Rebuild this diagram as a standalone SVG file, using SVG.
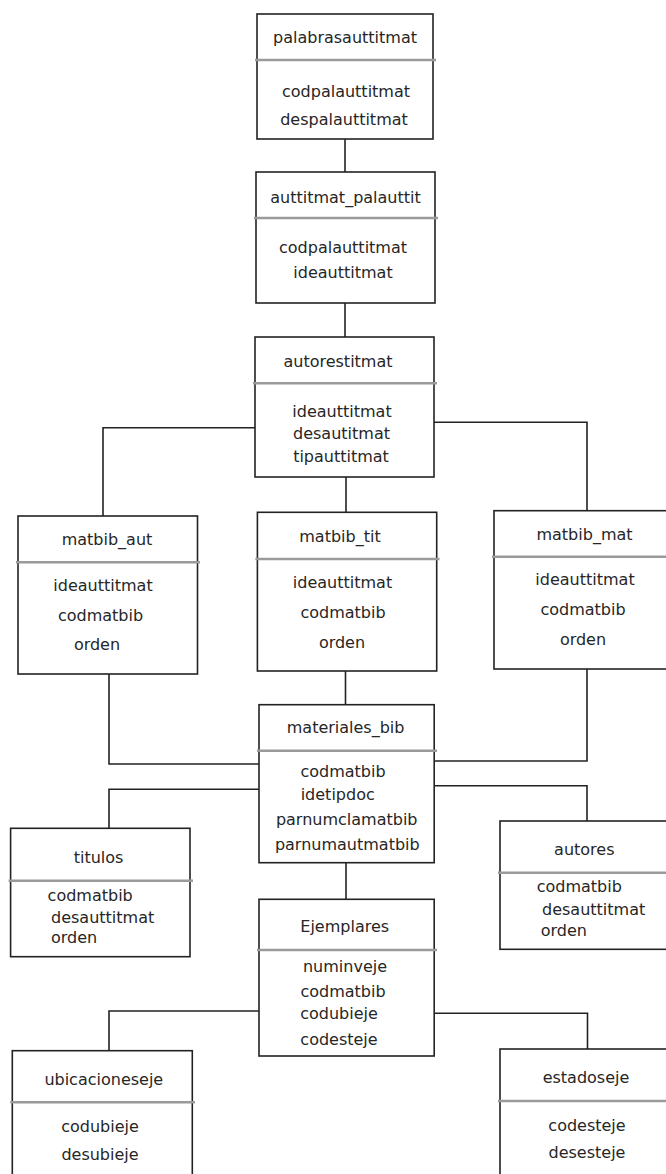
<svg xmlns="http://www.w3.org/2000/svg" width="666" height="1174" viewBox="0 0 666 1174">
  <style>
    .box { fill: #fff; stroke: #222; stroke-width: 1.6; }
    .sep { stroke: #9a9a9a; stroke-width: 2.6; }
    .wire { fill: none; stroke: #222; stroke-width: 1.6; }
    text { font-family: "DejaVu Sans", Verdana, sans-serif; font-size: 16px; fill: #262626; }
    .c { text-anchor: middle; }
  </style>

  <!-- relationships between tables -->
  <g id="connectors">
    <path class="wire" d="M345 139 V172"/>
    <path class="wire" d="M345 303 V337"/>
    <path class="wire" d="M255 427.7 H103 V516"/>
    <path class="wire" d="M434 422.3 H587 V510.7"/>
    <path class="wire" d="M346 477 V512.3"/>
    <path class="wire" d="M109 674 V764 H259"/>
    <path class="wire" d="M345.5 671 V704.7"/>
    <path class="wire" d="M587 669 V761 H434"/>
    <path class="wire" d="M259 789.3 H109 V828.3"/>
    <path class="wire" d="M434 785.7 H587 V821"/>
    <path class="wire" d="M346 862.7 V899.3"/>
    <path class="wire" d="M259 1011 H109 V1050.7"/>
    <path class="wire" d="M434 1013.3 H587.5 V1049"/>
  </g>

  <g id="palabrasauttitmat">
    <rect class="box" x="257" y="14" width="176" height="125"/>
    <line class="sep" x1="255" y1="60" x2="436" y2="60"/>
    <text class="c" x="345" y="43">palabrasauttitmat</text>
    <text class="c" x="346" y="96.5">codpalauttitmat</text>
    <text class="c" x="344" y="125">despalauttitmat</text>
  </g>

  <g id="auttitmat_palauttit">
    <rect class="box" x="256" y="172" width="179" height="131"/>
    <line class="sep" x1="254" y1="218" x2="438" y2="218"/>
    <text class="c" x="345.5" y="202.5">auttitmat_palauttit</text>
    <text class="c" x="343" y="252.7">codpalauttitmat</text>
    <text class="c" x="343" y="277.7">ideauttitmat</text>
  </g>

  <g id="autorestitmat">
    <rect class="box" x="255" y="337" width="179" height="140"/>
    <line class="sep" x1="253" y1="383.3" x2="437" y2="383.3"/>
    <text class="c" x="338" y="366.7">autorestitmat</text>
    <text class="c" x="342" y="417.3">ideauttitmat</text>
    <text class="c" x="341.5" y="439.3">desautitmat</text>
    <text class="c" x="341" y="461.7">tipauttitmat</text>
  </g>

  <g id="matbib_aut">
    <rect class="box" x="18" y="516" width="179.5" height="158"/>
    <line class="sep" x1="16" y1="562.3" x2="200" y2="562.3"/>
    <text class="c" x="107" y="545">matbib_aut</text>
    <text class="c" x="103" y="590.7">ideauttitmat</text>
    <text class="c" x="100.5" y="620.7">codmatbib</text>
    <text class="c" x="97" y="650">orden</text>
  </g>

  <g id="matbib_tit">
    <rect class="box" x="257.4" y="512.3" width="179.3" height="158.7"/>
    <line class="sep" x1="255.4" y1="559" x2="439.5" y2="559"/>
    <text class="c" x="340" y="541.7">matbib_tit</text>
    <text class="c" x="342.5" y="588.3">ideauttitmat</text>
    <text class="c" x="343" y="618.3">codmatbib</text>
    <text class="c" x="342" y="648.3">orden</text>
  </g>

  <g id="matbib_mat">
    <rect class="box" x="494" y="510.7" width="183" height="158.3"/>
    <line class="sep" x1="492" y1="556.7" x2="680" y2="556.7"/>
    <text class="c" x="584.5" y="540">matbib_mat</text>
    <text class="c" x="585" y="585">ideauttitmat</text>
    <text class="c" x="583" y="615">codmatbib</text>
    <text class="c" x="583" y="645">orden</text>
  </g>

  <g id="materiales_bib">
    <rect class="box" x="259" y="704.7" width="175.2" height="158"/>
    <line class="sep" x1="257" y1="750.7" x2="437" y2="750.7"/>
    <text class="c" x="345.6" y="733.3">materiales_bib</text>
    <text class="c" x="343" y="776.7">codmatbib</text>
    <text class="c" x="337.7" y="800">idetipdoc</text>
    <text class="c" x="346.7" y="825">parnumclamatbib</text>
    <text class="c" x="347.3" y="850">parnumautmatbib</text>
  </g>

  <g id="titulos">
    <rect class="box" x="10.6" y="828.3" width="179.4" height="128.4"/>
    <line class="sep" x1="8.6" y1="880.7" x2="193" y2="880.7"/>
    <text class="c" x="98.6" y="863.3">titulos</text>
    <text x="47.6" y="901">codmatbib</text>
    <text x="51" y="922.7">desauttitmat</text>
    <text x="51" y="943.3">orden</text>
  </g>

  <g id="autores">
    <rect class="box" x="500" y="821" width="177" height="128.3"/>
    <line class="sep" x1="498" y1="872.7" x2="680" y2="872.7"/>
    <text class="c" x="584.3" y="855">autores</text>
    <text x="536.7" y="891.7">codmatbib</text>
    <text x="542" y="915">desauttitmat</text>
    <text x="540.7" y="935.7">orden</text>
  </g>

  <g id="Ejemplares">
    <rect class="box" x="259" y="899.3" width="175.2" height="156.7"/>
    <line class="sep" x1="257" y1="950" x2="437" y2="950"/>
    <text class="c" x="344.7" y="931.7">Ejemplares</text>
    <text class="c" x="345" y="971.7">numinveje</text>
    <text class="c" x="343" y="996.7">codmatbib</text>
    <text class="c" x="339" y="1019.3">codubieje</text>
    <text class="c" x="339" y="1045">codesteje</text>
  </g>

  <g id="ubicacioneseje">
    <rect class="box" x="12.3" y="1050.7" width="180" height="140"/>
    <line class="sep" x1="10.3" y1="1102.3" x2="195" y2="1102.3"/>
    <text class="c" x="103.8" y="1085">ubicacioneseje</text>
    <text class="c" x="100" y="1131.7">codubieje</text>
    <text class="c" x="100" y="1160">desubieje</text>
  </g>

  <g id="estadoseje">
    <rect class="box" x="500" y="1049" width="177" height="140"/>
    <line class="sep" x1="498" y1="1101" x2="680" y2="1101"/>
    <text class="c" x="586" y="1083.3">estadoseje</text>
    <text class="c" x="587" y="1130.7">codesteje</text>
    <text class="c" x="587" y="1158.3">desesteje</text>
  </g>
</svg>
